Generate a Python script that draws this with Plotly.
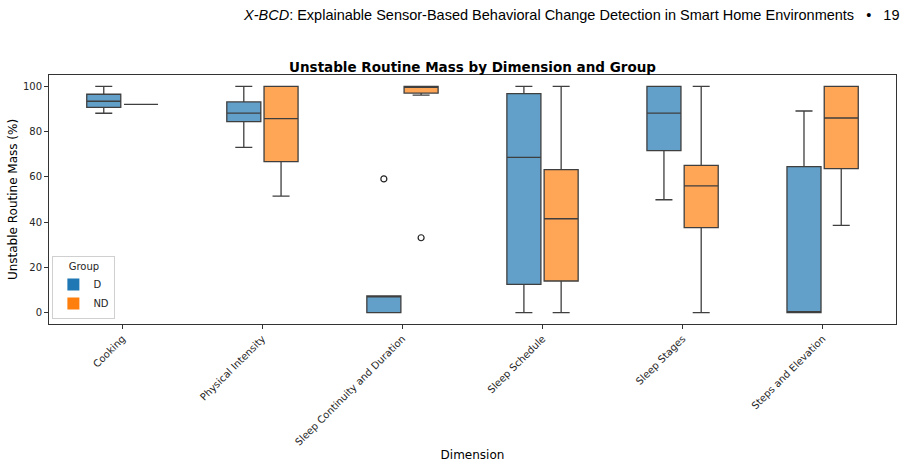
import plotly.graph_objects as go

categories = ["Cooking", "Physical Intensity", "Sleep Continuity and Duration",
              "Sleep Schedule", "Sleep Stages", "Steps and Elevation"]

# Group D statistics
d_lower = [88.1, 73.0, 0.0, 0.0, 49.9, 0.0]
d_q1 = [90.7, 84.4, 0.0, 12.5, 71.6, 0.0]
d_median = [93.4, 88.2, 7.0, 68.6, 88.2, 0.0]
d_q3 = [96.5, 93.1, 7.4, 96.8, 100.0, 64.5]
d_upper = [100.0, 100.0, 7.4, 100.0, 100.0, 89.1]
d_outlier_cat = [2]
d_outlier_val = [59.1]

# Group ND statistics
nd_lower = [92.0, 51.5, 96.1, 0.0, 0.0, 38.6]
nd_q1 = [92.0, 66.7, 97.0, 14.0, 37.6, 63.6]
nd_median = [92.0, 85.7, 100.0, 41.5, 56.0, 86.0]
nd_q3 = [92.0, 100.0, 100.0, 63.2, 65.1, 100.0]
nd_upper = [92.0, 100.0, 100.0, 100.0, 100.0, 100.0]
nd_outlier_cat = [2]
nd_outlier_val = [33.1]

y_ticks = [0, 20, 40, 60, 80, 100]

FONT = "DejaVu Sans"
OFFSET = 0.133
BOXW = 0.243
LINE = "#3f3f3f"

idx = list(range(len(categories)))
fig = go.Figure()

groups = [
    ("D", -OFFSET, "rgba(31,119,180,0.7)", "#1f77b4", d_lower, d_q1, d_median, d_q3, d_upper, d_outlier_cat, d_outlier_val),
    ("ND", OFFSET, "rgba(255,127,14,0.7)", "#ff7f0e", nd_lower, nd_q1, nd_median, nd_q3, nd_upper, nd_outlier_cat, nd_outlier_val),
]
for name, off, fill, solid, lo, q1, med, q3, up, oc, ov in groups:
    fig.add_trace(go.Box(
        name=name, x=[i + off for i in idx],
        q1=q1, median=med, q3=q3, lowerfence=lo, upperfence=up,
        width=BOXW, whiskerwidth=0.5, fillcolor=fill,
        line=dict(color=LINE, width=1.3), boxpoints=False,
        hoverinfo="skip", showlegend=False, legendgroup=name,
    ))
    fig.add_trace(go.Scatter(
        x=[c + off for c in oc], y=ov, mode="markers", showlegend=False,
        marker=dict(symbol="circle-open", size=6, color="#222", line=dict(width=1.2)),
        hoverinfo="skip", legendgroup=name,
    ))
    # legend patch (solid colour, as in the reference legend)
    fig.add_trace(go.Bar(
        name=name, x=[None], y=[None], marker=dict(color=solid, line=dict(width=0)),
        legendgroup=name, showlegend=True, hoverinfo="skip",
    ))

fig.update_layout(
    width=907, height=462,
    margin=dict(l=49, r=11, t=75, b=138),
    paper_bgcolor="white", plot_bgcolor="white",
    boxmode="overlay", barmode="overlay",
    font=dict(family=FONT, size=10, color="#262626"),
    title=dict(text="<b>Unstable Routine Mass by Dimension and Group</b>",
               x=0.5, xref="paper", xanchor="center", y=1, yref="paper",
               yanchor="bottom", pad=dict(b=3),
               font=dict(family=FONT, size=13.5, color="black")),
    legend=dict(x=0.004, y=0.02, xanchor="left", yanchor="bottom",
                bgcolor="rgba(255,255,255,0.8)", bordercolor="#d0d0d0", borderwidth=1,
                title=dict(text="Group", side="top center", font=dict(size=10)),
                font=dict(size=10), tracegroupgap=0, itemclick=False),
    showlegend=True,
)
fig.update_xaxes(
    range=[-0.524, 5.524], tickvals=idx, ticktext=categories, tickangle=-45,
    showline=True, mirror=True, linecolor="#333", linewidth=1, automargin=False,
    ticks="outside", ticklen=4, tickcolor="#333", showgrid=False, zeroline=False,
    tickfont=dict(size=10),
    title=dict(text="Dimension", font=dict(size=12, color="black"), standoff=5),
)
fig.update_yaxes(
    range=[-5, 105], tickvals=y_ticks, automargin=False,
    showline=True, mirror=True, linecolor="#333", linewidth=1,
    ticks="outside", ticklen=4, tickcolor="#333", showgrid=False, zeroline=False,
    title=dict(text="Unstable Routine Mass (%)", font=dict(size=12, color="black"), standoff=2),
)

fig.add_annotation(
    text="<i>X-BCD</i>: Explainable Sensor-Based Behavioral Change Detection in Smart Home Environments   •   19",
    xref="paper", yref="paper", x=1.0, y=1.0, xanchor="right", yanchor="bottom",
    yshift=50, xshift=6, showarrow=False,
    font=dict(family="Liberation Sans", size=14.5, color="black"),
)

fig.write_html("out.html")
